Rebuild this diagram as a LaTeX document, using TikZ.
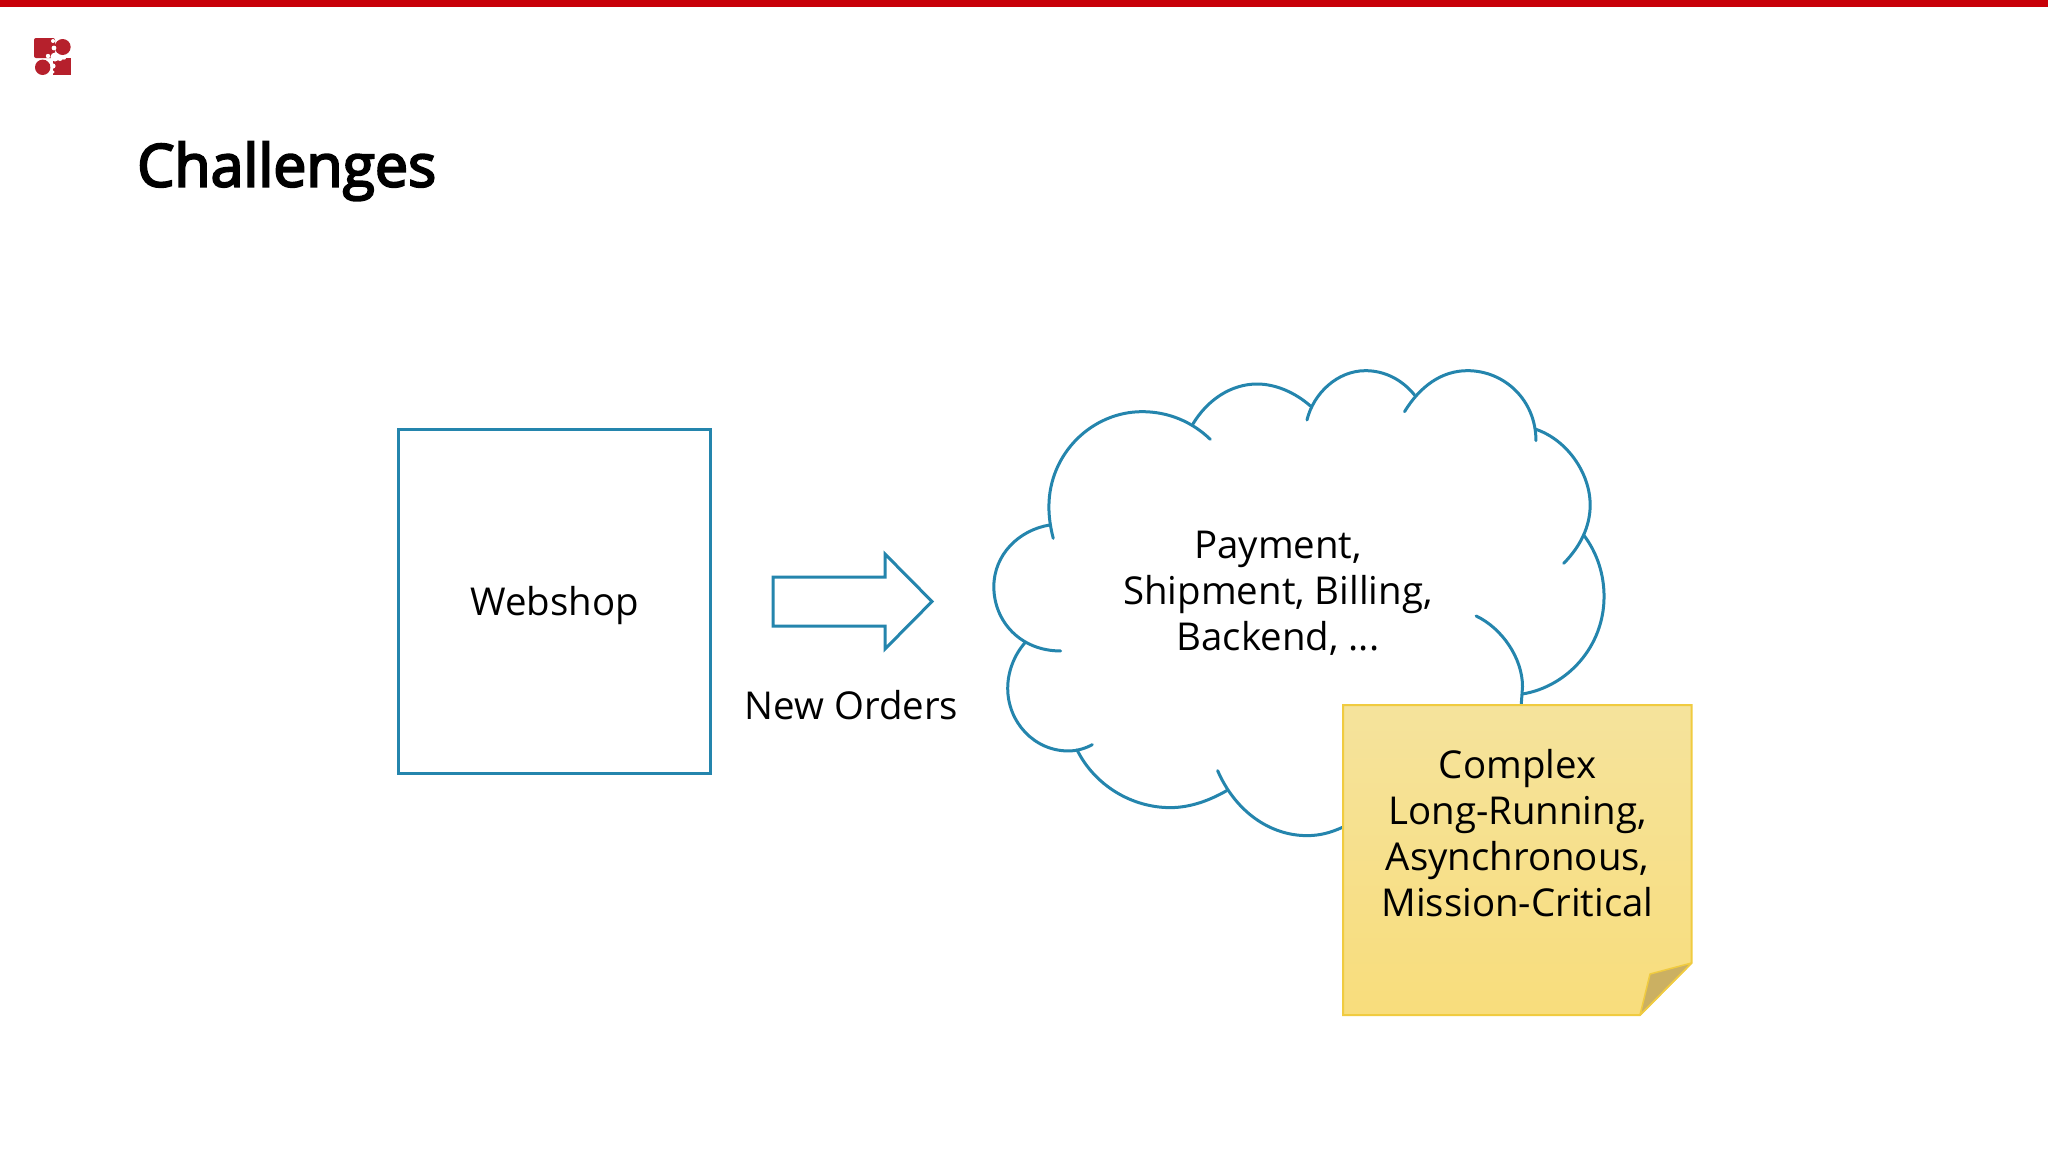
\documentclass[tikz,border=0pt]{standalone}
\usepackage{fontspec}
\setmainfont{Open Sans}
\newfontfamily\semib[FakeBold=3.6]{Open Sans}
\definecolor{teal1}{HTML}{2485AD}
\definecolor{barred}{HTML}{C80008}
\definecolor{logored}{HTML}{B6202C}
\definecolor{notetop}{HTML}{F5E39C}
\definecolor{notebot}{HTML}{F8DD7C}
\definecolor{noteline}{HTML}{F0CB40}
\definecolor{foldc}{HTML}{CBB062}
\tikzset{
  px/.style={x=1pt,y=-1pt},
  lobe/.style={draw=teal1,line width=3pt,line cap=round},
  blue box/.style={draw=teal1,line width=3pt},
  body text/.style={font=\fontsize{38.4}{46}\selectfont,align=center,text=black,inner sep=0pt},
  title text/.style={font=\fontsize{59}{66}\selectfont\semib,text=black,inner sep=0pt,anchor=base west},
}
\begin{document}
\begin{tikzpicture}[px]
\useasboundingbox (0,0) rectangle (2048,1152);
\fill[white] (0,0) rectangle (2048,1152);
\fill[barred] (0,0) rectangle (2048,7);
% logo
\begin{scope}
\fill[logored,rounded corners=2pt] (34,38) rectangle (55,58);
\fill[logored] (62.7,47) circle (8);
\fill[logored] (42.7,67.3) circle (7.7);
\fill[logored] (53,58) rectangle (71,75);
\fill[white] (53,41) circle (2) (54,48) circle (2.4) (48,56) circle (2.2) (55,57) circle (4.5);
\fill[white] (60,58) circle (3) (53,66) circle (2.6) (53,72) circle (1.6) (64,57.5) circle (2.2);
\end{scope}
\node[title text] (title) at (137,186.5) {Challenges};
% webshop
\node[blue box,minimum width=312.5pt,minimum height=344.5pt,inner sep=0pt] (webshop) at (554.5,601.5) {};
\node[body text] (shoplabel) at (554.5,605.5) {Webshop};
\draw[blue box,line join=miter] (773,577) -- (885,577) -- (885,554) -- (932,601.5) -- (885,649) -- (885,626) -- (773,626) -- cycle;
\node[body text] (orders) at (851.5,705) {New Orders};
% cloud
\begin{scope}[shift={(960,350)},x=0.4337pt,y=-0.3333pt]
\draw[lobe] (215,565) .. controls (208,530) and (205,500) .. (205,470) .. controls (205,310) and (305,185) .. (420,185) .. controls (480,185) and (535,215) .. (577,268);
\draw[lobe] (537,222) .. controls (570,150) and (625,102) .. (685,102) .. controls (730,102) and (775,130) .. (808,168);
\draw[lobe] (800,210) .. controls (815,130) and (870,62) .. (935,62) .. controls (980,62) and (1020,90) .. (1048,135);
\draw[lobe] (1025,185) .. controls (1060,110) and (1110,62) .. (1170,62) .. controls (1255,62) and (1328,150) .. (1328,272);
\draw[lobe] (1328,238) .. controls (1400,270) and (1453,370) .. (1453,465) .. controls (1453,530) and (1430,590) .. (1392,640);
\draw[lobe] (1438,555) .. controls (1470,610) and (1485,675) .. (1485,740) .. controls (1485,890) and (1400,1010) .. (1297,1032);
\draw[lobe] (1190,798) .. controls (1250,835) and (1297,925) .. (1297,1010) -- (1294,1065);
\draw[lobe] (882,1432) .. controls (855,1448) and (830,1457) .. (800,1457) .. controls (715,1457) and (635,1385) .. (594,1262);
\draw[lobe] (615,1322) .. controls (575,1352) and (530,1373) .. (485,1373) .. controls (395,1373) and (310,1305) .. (270,1200);
\draw[lobe] (305,1184) .. controls (290,1195) and (270,1203) .. (250,1203) .. controls (170,1203) and (110,1115) .. (110,1015) .. controls (110,965) and (125,915) .. (150,878);
\draw[lobe] (232,903) .. controls (140,903) and (78,815) .. (78,710) .. controls (78,615) and (135,540) .. (207,525);
\end{scope}
\node[body text] (services) at (1278,593) {Payment,\\Shipment, Billing,\\Backend, ...};
% sticky note
\draw[noteline,line width=2pt,top color=notetop,bottom color=notebot,shading angle=0]
  (1343,705) -- (1691.5,705) -- (1691.5,963) -- (1640,1015) -- (1343,1015) -- cycle;
\draw[noteline,line width=1.5pt,fill=foldc,line join=round] (1691.5,963) -- (1650,974) -- (1640,1015) -- cycle;
\node[body text] (note) at (1517.5,833.5) {Complex\\Long-Running,\\Asynchronous,\\Mission-Critical};
\end{tikzpicture}
\end{document}
